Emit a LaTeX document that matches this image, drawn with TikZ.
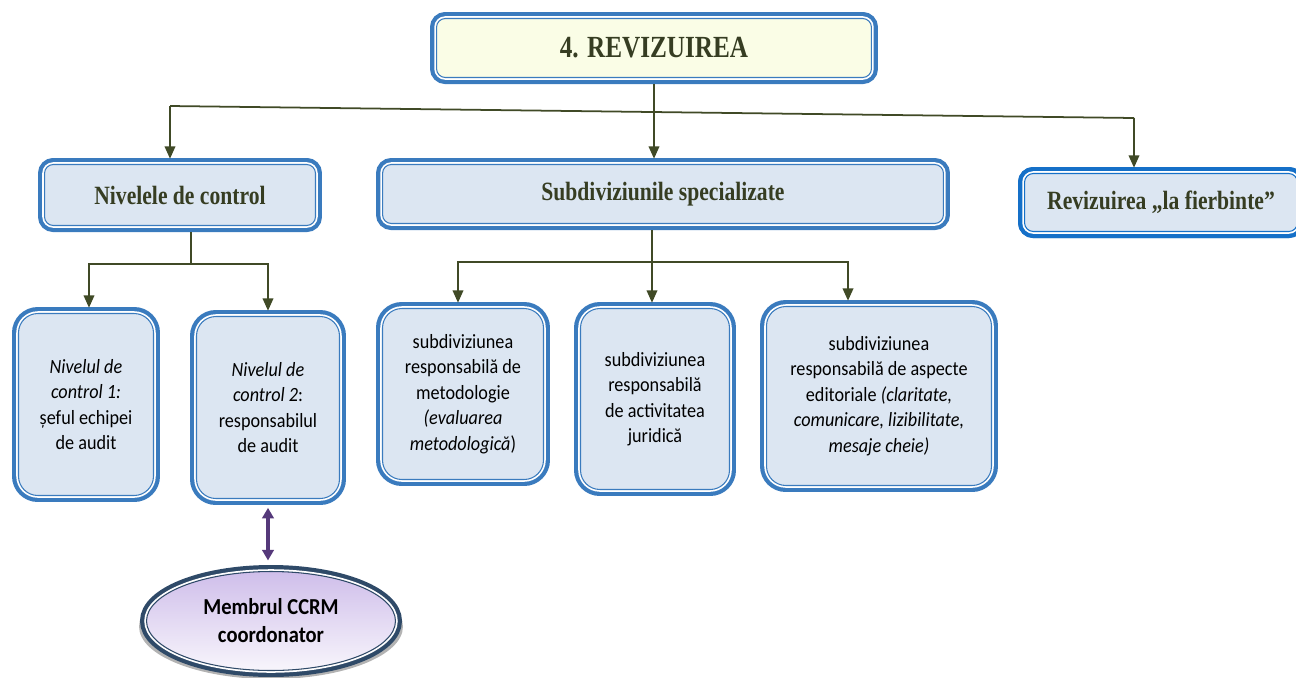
\documentclass[tikz,border=0pt]{standalone}
\usepackage{fontspec}
\setmainfont{Carlito}
\newfontfamily\headfont{Liberation Serif}[FakeStretch=0.82]
\newfontfamily\boxfont{Carlito}[FakeStretch=0.9]
\usetikzlibrary{arrows.meta,shapes.geometric,shadows}
\definecolor{boxblue}{HTML}{3A7BBE}
\definecolor{revblue}{HTML}{1570C8}
\definecolor{boxfill}{HTML}{DCE6F2}
\definecolor{topfill}{HTML}{FAFDE6}
\definecolor{headtext}{HTML}{363D22}
\definecolor{linkcol}{HTML}{404A26}
\definecolor{ellblue}{HTML}{2F4A68}
\definecolor{lav}{HTML}{CFBEEA}
\definecolor{linkpurple}{HTML}{55397A}
\begin{document}
\begin{tikzpicture}[x=0.02cm, y=-0.02cm,
    frame/.style={draw=#1, line width=0.6pt,
        preaction={draw=#1, line width=7.4pt},
        preaction={draw=white, line width=2.6pt}},
    head/.style={frame=boxblue, rectangle, rounded corners=5pt, inner sep=0pt, fill=boxfill,
        text=headtext, font=\headfont\bfseries\fontsize{15}{17}\selectfont},
    cell/.style={frame=boxblue, rectangle, rounded corners=11pt, inner sep=0pt, fill=boxfill,
        align=center, font=\boxfont\fontsize{11.5}{14.5}\selectfont},
    link/.style={draw=linkcol, line width=1pt},
    arr/.style={link, -{Triangle[length=7pt, width=6pt]}, shorten >=3pt}]
    \useasboundingbox (0,0) rectangle (1296,677);
    \node[head, fill=topfill, minimum width=8.7cm, minimum height=1.18cm,
        font=\headfont\bfseries\fontsize{17.5}{20}\selectfont] (top) at (654,48) {4. REVIZUIREA};
    \node[head, minimum width=5.42cm, minimum height=1.22cm] (niv) at (180,195) {Nivelele de control};
    \node[head, minimum width=11.22cm, minimum height=1.18cm] (sub) at (663,194) {Subdiviziunile specializate};
    \node[head, frame=revblue, minimum width=5.46cm, minimum height=1.16cm] (rev) at (1161,202.5) {Revizuirea „la fierbinte”};
    \node[cell, minimum width=2.7cm, minimum height=3.64cm] (n1) at (86,404.5)
        {\itshape Nivelul de\\\itshape control 1:\\șeful echipei\\de audit};
    \node[cell, minimum width=2.86cm, minimum height=3.64cm] (n2) at (268,407.5)
        {\itshape Nivelul de\\{\itshape control 2}:\\responsabilul\\de audit};
    \node[cell, minimum width=3.22cm, minimum height=3.42cm] (m1) at (463,394)
        {subdiviziunea\\responsabilă de\\metodologie\\\itshape (evaluarea\\{\itshape metodologică})};
    \node[cell, minimum width=2.98cm, minimum height=3.62cm] (m2) at (655,399)
        {subdiviziunea\\responsabilă\\de activitatea\\juridică};
    \node[cell, minimum width=4.5cm, minimum height=3.58cm] (m3) at (879,396)
        {subdiviziunea\\responsabilă de aspecte\\editoriale {\itshape (claritate,}\\\itshape comunicare, lizibilitate,\\\itshape mesaje cheie)};
    \node[ellipse, drop shadow={shadow xshift=0pt, shadow yshift=-3pt, shadow scale=1.06, opacity=0.6},
        frame=ellblue, top color=lav, bottom color=lav!15, inner sep=0pt,
        minimum width=4.98cm, minimum height=1.98cm, align=center,
        font=\boxfont\bfseries\fontsize{13}{16}\selectfont] (ell) at (271,621) {Membrul CCRM\\coordonator};
    \coordinate (bl) at (170,106);
    \coordinate (br) at (1134,118);
    \draw[link] (bl) -- (br);
    \draw[arr, shorten <=3.5pt] (top.south) -- (top.south |- sub.north);
    \draw[arr] (bl) -- (bl |- niv.north);
    \draw[arr] (br) -- (br |- rev.north);
    \coordinate (nb) at (191,264);
    \draw[link, shorten <=3.5pt] (nb |- niv.south) -- (nb);
    \draw[arr] (nb) -| ([xshift=0.06cm]n1.north);
    \draw[arr] (nb) -| (n2.north);
    \coordinate (sb) at (652,262);
    \draw[link, shorten <=3.5pt] (sb |- sub.south) -- (sb);
    \draw[arr] (sb) -| ([xshift=-0.1cm]m1.north);
    \draw[arr] (sb) -- (sb |- m2.north);
    \draw[arr] (sb) -| ([xshift=-0.62cm]m3.north);
    \draw[linkpurple, line width=1.8pt, {Triangle[length=6pt, width=6.5pt]}-{Triangle[length=6pt, width=6.5pt]},
        shorten <=5pt, shorten >=6pt] (n2.south) -- (n2.south |- ell.north);
\end{tikzpicture}
\end{document}
